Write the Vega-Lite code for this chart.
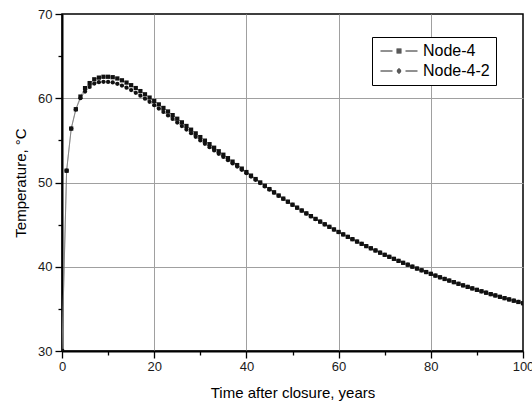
{
  "$schema": "https://vega.github.io/schema/vega-lite/v6.json",
  "width": 461,
  "height": 337,
  "autosize": {"type": "none"},
  "padding": {"left": 62, "top": 14, "right": 9, "bottom": 53},
  "background": "white",
  "config": {
    "view": {"stroke": "black", "strokeWidth": 1.5},
    "font": "Liberation Sans",
    "axis": {
      "domainColor": "black",
      "domainWidth": 2,
      "tickColor": "black",
      "tickWidth": 1.3,
      "labelFont": "Liberation Sans",
      "labelFontSize": 13,
      "labelColor": "#1a1a1a",
      "titleFont": "Liberation Sans",
      "titleFontSize": 15,
      "titleFontWeight": "normal",
      "titleColor": "black",
      "gridWidth": 1,
      "labelFlush": false,
      "labelOverlap": false
    }
  },
  "data": {
    "values": [
      {"t": 0, "s": "Node-4", "T": 30.0}, {"t": 1, "s": "Node-4", "T": 51.4}, {"t": 2, "s": "Node-4", "T": 56.4}, {"t": 3, "s": "Node-4", "T": 58.7}, {"t": 4, "s": "Node-4", "T": 60.2},
      {"t": 5, "s": "Node-4", "T": 61.2}, {"t": 6, "s": "Node-4", "T": 61.8}, {"t": 7, "s": "Node-4", "T": 62.25}, {"t": 8, "s": "Node-4", "T": 62.45}, {"t": 9, "s": "Node-4", "T": 62.55},
      {"t": 10, "s": "Node-4", "T": 62.55}, {"t": 11, "s": "Node-4", "T": 62.5}, {"t": 12, "s": "Node-4", "T": 62.35}, {"t": 13, "s": "Node-4", "T": 62.13}, {"t": 14, "s": "Node-4", "T": 61.86},
      {"t": 15, "s": "Node-4", "T": 61.55}, {"t": 16, "s": "Node-4", "T": 61.21}, {"t": 17, "s": "Node-4", "T": 60.85}, {"t": 18, "s": "Node-4", "T": 60.47}, {"t": 19, "s": "Node-4", "T": 60.08},
      {"t": 20, "s": "Node-4", "T": 59.68}, {"t": 21, "s": "Node-4", "T": 59.27}, {"t": 22, "s": "Node-4", "T": 58.85}, {"t": 23, "s": "Node-4", "T": 58.43}, {"t": 24, "s": "Node-4", "T": 58.0},
      {"t": 25, "s": "Node-4", "T": 57.57}, {"t": 26, "s": "Node-4", "T": 57.14}, {"t": 27, "s": "Node-4", "T": 56.71}, {"t": 28, "s": "Node-4", "T": 56.27}, {"t": 29, "s": "Node-4", "T": 55.83},
      {"t": 30, "s": "Node-4", "T": 55.39}, {"t": 31, "s": "Node-4", "T": 54.97}, {"t": 32, "s": "Node-4", "T": 54.55}, {"t": 33, "s": "Node-4", "T": 54.13}, {"t": 34, "s": "Node-4", "T": 53.71},
      {"t": 35, "s": "Node-4", "T": 53.3}, {"t": 36, "s": "Node-4", "T": 52.89}, {"t": 37, "s": "Node-4", "T": 52.48}, {"t": 38, "s": "Node-4", "T": 52.07}, {"t": 39, "s": "Node-4", "T": 51.65},
      {"t": 40, "s": "Node-4", "T": 51.24}, {"t": 41, "s": "Node-4", "T": 50.82}, {"t": 42, "s": "Node-4", "T": 50.41}, {"t": 43, "s": "Node-4", "T": 50.01}, {"t": 44, "s": "Node-4", "T": 49.61},
      {"t": 45, "s": "Node-4", "T": 49.22}, {"t": 46, "s": "Node-4", "T": 48.84}, {"t": 47, "s": "Node-4", "T": 48.46}, {"t": 48, "s": "Node-4", "T": 48.09}, {"t": 49, "s": "Node-4", "T": 47.73},
      {"t": 50, "s": "Node-4", "T": 47.37}, {"t": 51, "s": "Node-4", "T": 47.02}, {"t": 52, "s": "Node-4", "T": 46.68}, {"t": 53, "s": "Node-4", "T": 46.34}, {"t": 54, "s": "Node-4", "T": 46.01},
      {"t": 55, "s": "Node-4", "T": 45.68}, {"t": 56, "s": "Node-4", "T": 45.36}, {"t": 57, "s": "Node-4", "T": 45.04}, {"t": 58, "s": "Node-4", "T": 44.74}, {"t": 59, "s": "Node-4", "T": 44.43},
      {"t": 60, "s": "Node-4", "T": 44.13}, {"t": 61, "s": "Node-4", "T": 43.84}, {"t": 62, "s": "Node-4", "T": 43.55}, {"t": 63, "s": "Node-4", "T": 43.27}, {"t": 64, "s": "Node-4", "T": 42.99},
      {"t": 65, "s": "Node-4", "T": 42.72}, {"t": 66, "s": "Node-4", "T": 42.45}, {"t": 67, "s": "Node-4", "T": 42.19}, {"t": 68, "s": "Node-4", "T": 41.93}, {"t": 69, "s": "Node-4", "T": 41.67},
      {"t": 70, "s": "Node-4", "T": 41.42}, {"t": 71, "s": "Node-4", "T": 41.18}, {"t": 72, "s": "Node-4", "T": 40.94}, {"t": 73, "s": "Node-4", "T": 40.7}, {"t": 74, "s": "Node-4", "T": 40.47},
      {"t": 75, "s": "Node-4", "T": 40.24}, {"t": 76, "s": "Node-4", "T": 40.01}, {"t": 77, "s": "Node-4", "T": 39.79}, {"t": 78, "s": "Node-4", "T": 39.58}, {"t": 79, "s": "Node-4", "T": 39.37},
      {"t": 80, "s": "Node-4", "T": 39.16}, {"t": 81, "s": "Node-4", "T": 38.95}, {"t": 82, "s": "Node-4", "T": 38.75}, {"t": 83, "s": "Node-4", "T": 38.55}, {"t": 84, "s": "Node-4", "T": 38.36},
      {"t": 85, "s": "Node-4", "T": 38.17}, {"t": 86, "s": "Node-4", "T": 37.98}, {"t": 87, "s": "Node-4", "T": 37.79}, {"t": 88, "s": "Node-4", "T": 37.61}, {"t": 89, "s": "Node-4", "T": 37.43},
      {"t": 90, "s": "Node-4", "T": 37.26}, {"t": 91, "s": "Node-4", "T": 37.09}, {"t": 92, "s": "Node-4", "T": 36.92}, {"t": 93, "s": "Node-4", "T": 36.75}, {"t": 94, "s": "Node-4", "T": 36.59},
      {"t": 95, "s": "Node-4", "T": 36.43}, {"t": 96, "s": "Node-4", "T": 36.27}, {"t": 97, "s": "Node-4", "T": 36.12}, {"t": 98, "s": "Node-4", "T": 35.97}, {"t": 99, "s": "Node-4", "T": 35.82},
      {"t": 100, "s": "Node-4", "T": 35.67},
      {"t": 0, "s": "Node-4-2", "T": 30.0}, {"t": 1, "s": "Node-4-2", "T": 51.4}, {"t": 2, "s": "Node-4-2", "T": 56.4}, {"t": 3, "s": "Node-4-2", "T": 58.65}, {"t": 4, "s": "Node-4-2", "T": 60.0},
      {"t": 5, "s": "Node-4-2", "T": 60.8}, {"t": 6, "s": "Node-4-2", "T": 61.35}, {"t": 7, "s": "Node-4-2", "T": 61.75}, {"t": 8, "s": "Node-4-2", "T": 61.9}, {"t": 9, "s": "Node-4-2", "T": 61.95},
      {"t": 10, "s": "Node-4-2", "T": 61.93}, {"t": 11, "s": "Node-4-2", "T": 61.87}, {"t": 12, "s": "Node-4-2", "T": 61.72}, {"t": 13, "s": "Node-4-2", "T": 61.51}, {"t": 14, "s": "Node-4-2", "T": 61.26},
      {"t": 15, "s": "Node-4-2", "T": 60.97}, {"t": 16, "s": "Node-4-2", "T": 60.65}, {"t": 17, "s": "Node-4-2", "T": 60.31}, {"t": 18, "s": "Node-4-2", "T": 59.95}, {"t": 19, "s": "Node-4-2", "T": 59.58},
      {"t": 20, "s": "Node-4-2", "T": 59.18}, {"t": 21, "s": "Node-4-2", "T": 58.78}, {"t": 22, "s": "Node-4-2", "T": 58.37}, {"t": 23, "s": "Node-4-2", "T": 57.96}, {"t": 24, "s": "Node-4-2", "T": 57.54},
      {"t": 25, "s": "Node-4-2", "T": 57.12}, {"t": 26, "s": "Node-4-2", "T": 56.7}, {"t": 27, "s": "Node-4-2", "T": 56.28}, {"t": 28, "s": "Node-4-2", "T": 55.85}, {"t": 29, "s": "Node-4-2", "T": 55.42},
      {"t": 30, "s": "Node-4-2", "T": 54.99}, {"t": 31, "s": "Node-4-2", "T": 54.59}, {"t": 32, "s": "Node-4-2", "T": 54.19}, {"t": 33, "s": "Node-4-2", "T": 53.8}, {"t": 34, "s": "Node-4-2", "T": 53.41},
      {"t": 35, "s": "Node-4-2", "T": 53.03}, {"t": 36, "s": "Node-4-2", "T": 52.65}, {"t": 37, "s": "Node-4-2", "T": 52.27}, {"t": 38, "s": "Node-4-2", "T": 51.89}, {"t": 39, "s": "Node-4-2", "T": 51.5},
      {"t": 40, "s": "Node-4-2", "T": 51.11}, {"t": 41, "s": "Node-4-2", "T": 50.71}, {"t": 42, "s": "Node-4-2", "T": 50.32}, {"t": 43, "s": "Node-4-2", "T": 49.93}, {"t": 44, "s": "Node-4-2", "T": 49.54},
      {"t": 45, "s": "Node-4-2", "T": 49.16}, {"t": 46, "s": "Node-4-2", "T": 48.79}, {"t": 47, "s": "Node-4-2", "T": 48.42}, {"t": 48, "s": "Node-4-2", "T": 48.06}, {"t": 49, "s": "Node-4-2", "T": 47.7},
      {"t": 50, "s": "Node-4-2", "T": 47.35}, {"t": 51, "s": "Node-4-2", "T": 47.0}, {"t": 52, "s": "Node-4-2", "T": 46.66}, {"t": 53, "s": "Node-4-2", "T": 46.32}, {"t": 54, "s": "Node-4-2", "T": 45.99},
      {"t": 55, "s": "Node-4-2", "T": 45.66}, {"t": 56, "s": "Node-4-2", "T": 45.35}, {"t": 57, "s": "Node-4-2", "T": 45.03}, {"t": 58, "s": "Node-4-2", "T": 44.73}, {"t": 59, "s": "Node-4-2", "T": 44.42},
      {"t": 60, "s": "Node-4-2", "T": 44.12}, {"t": 61, "s": "Node-4-2", "T": 43.84}, {"t": 62, "s": "Node-4-2", "T": 43.55}, {"t": 63, "s": "Node-4-2", "T": 43.27}, {"t": 64, "s": "Node-4-2", "T": 42.99},
      {"t": 65, "s": "Node-4-2", "T": 42.72}, {"t": 66, "s": "Node-4-2", "T": 42.45}, {"t": 67, "s": "Node-4-2", "T": 42.19}, {"t": 68, "s": "Node-4-2", "T": 41.93}, {"t": 69, "s": "Node-4-2", "T": 41.67},
      {"t": 70, "s": "Node-4-2", "T": 41.42}, {"t": 71, "s": "Node-4-2", "T": 41.18}, {"t": 72, "s": "Node-4-2", "T": 40.94}, {"t": 73, "s": "Node-4-2", "T": 40.7}, {"t": 74, "s": "Node-4-2", "T": 40.47},
      {"t": 75, "s": "Node-4-2", "T": 40.24}, {"t": 76, "s": "Node-4-2", "T": 40.01}, {"t": 77, "s": "Node-4-2", "T": 39.79}, {"t": 78, "s": "Node-4-2", "T": 39.58}, {"t": 79, "s": "Node-4-2", "T": 39.37},
      {"t": 80, "s": "Node-4-2", "T": 39.16}, {"t": 81, "s": "Node-4-2", "T": 38.95}, {"t": 82, "s": "Node-4-2", "T": 38.75}, {"t": 83, "s": "Node-4-2", "T": 38.55}, {"t": 84, "s": "Node-4-2", "T": 38.36},
      {"t": 85, "s": "Node-4-2", "T": 38.17}, {"t": 86, "s": "Node-4-2", "T": 37.98}, {"t": 87, "s": "Node-4-2", "T": 37.79}, {"t": 88, "s": "Node-4-2", "T": 37.61}, {"t": 89, "s": "Node-4-2", "T": 37.43},
      {"t": 90, "s": "Node-4-2", "T": 37.26}, {"t": 91, "s": "Node-4-2", "T": 37.09}, {"t": 92, "s": "Node-4-2", "T": 36.92}, {"t": 93, "s": "Node-4-2", "T": 36.75}, {"t": 94, "s": "Node-4-2", "T": 36.59},
      {"t": 95, "s": "Node-4-2", "T": 36.43}, {"t": 96, "s": "Node-4-2", "T": 36.27}, {"t": 97, "s": "Node-4-2", "T": 36.12}, {"t": 98, "s": "Node-4-2", "T": 35.97}, {"t": 99, "s": "Node-4-2", "T": 35.82},
      {"t": 100, "s": "Node-4-2", "T": 35.67}
    ]
  },
  "encoding": {
    "x": {
      "field": "t",
      "type": "quantitative",
      "scale": {"domain": [0, 100], "nice": false, "zero": false},
      "axis": {
        "title": "Time after closure, years",
        "values": [0, 10, 20, 30, 40, 50, 60, 70, 80, 90, 100],
        "labelExpr": "datum.value % 20 === 0 ? datum.label : ''",
        "tickSize": {"condition": {"test": "datum.value % 20 === 0", "value": 7}, "value": 4},
        "labelPadding": 2,
        "titlePadding": 12,
        "grid": true,
        "gridColor": {"condition": {"test": "datum.value % 20 === 0 && datum.value > 0 && datum.value < 100", "value": "#a0a0a0"}, "value": "rgba(0,0,0,0)"}
      }
    },
    "y": {
      "field": "T",
      "type": "quantitative",
      "scale": {"domain": [30, 70], "nice": false, "zero": false},
      "axis": {
        "title": "Temperature, °C",
        "values": [30, 35, 40, 45, 50, 55, 60, 65, 70],
        "labelExpr": "datum.value % 10 === 0 ? datum.label : ''",
        "tickSize": {"condition": {"test": "datum.value % 10 === 0", "value": 7}, "value": 4},
        "labelPadding": 3,
        "titlePadding": 9,
        "grid": true,
        "gridColor": {"condition": {"test": "datum.value % 10 === 0 && datum.value > 30 && datum.value < 70", "value": "#a0a0a0"}, "value": "rgba(0,0,0,0)"}
      }
    }
  },
  "layer": [
    {
      "mark": {"type": "line", "color": "#7a7a7a", "strokeWidth": 0.7, "clip": true},
      "encoding": {"detail": {"field": "s", "type": "nominal"}}
    },
    {
      "mark": {"type": "point", "filled": true, "opacity": 1, "clip": true, "size": 18, "color": "#111111"},
      "encoding": {
        "shape": {
          "field": "s",
          "type": "nominal",
          "scale": {"domain": ["Node-4", "Node-4-2"], "range": ["square", "circle"]},
          "legend": null
        }
      }
    },
    {
      "mark": {"type": "point", "filled": false, "opacity": 0, "clip": true, "size": 100, "color": "#222222", "strokeWidth": 1},
      "encoding": {
        "shape": {
          "field": "s",
          "type": "nominal",
          "scale": {
            "domain": ["Node-4", "Node-4-2"],
            "range": [
              "M-3.7,0H-1.3M1.3,0H3.7M-0.5,-0.4H0.5M-0.5,-0.2H0.5M-0.5,0H0.5M-0.5,0.2H0.5M-0.5,0.4H0.5",
              "M-3.7,0H-1.3M1.3,0H3.7M-0.2,-0.4H0.2M-0.4,-0.2H0.4M-0.45,0H0.45M-0.4,0.2H0.4M-0.2,0.4H0.2"
            ]
          },
          "legend": {
            "title": null,
            "orient": "none",
            "legendX": 310,
            "legendY": 23,
            "strokeColor": "black",
            "fillColor": "white",
            "padding": 6,
            "labelFont": "Liberation Sans",
            "labelFontSize": 16,
            "labelColor": "black",
            "symbolSize": 100,
            "symbolOffset": 13,
            "labelOffset": 16,
            "rowPadding": 4,
            "symbolOpacity": 1,
            "symbolStrokeColor": "#222222",
            "symbolStrokeWidth": 1
          }
        }
      }
    }
  ],
  "resolve": {"scale": {"shape": "independent"}}
}
